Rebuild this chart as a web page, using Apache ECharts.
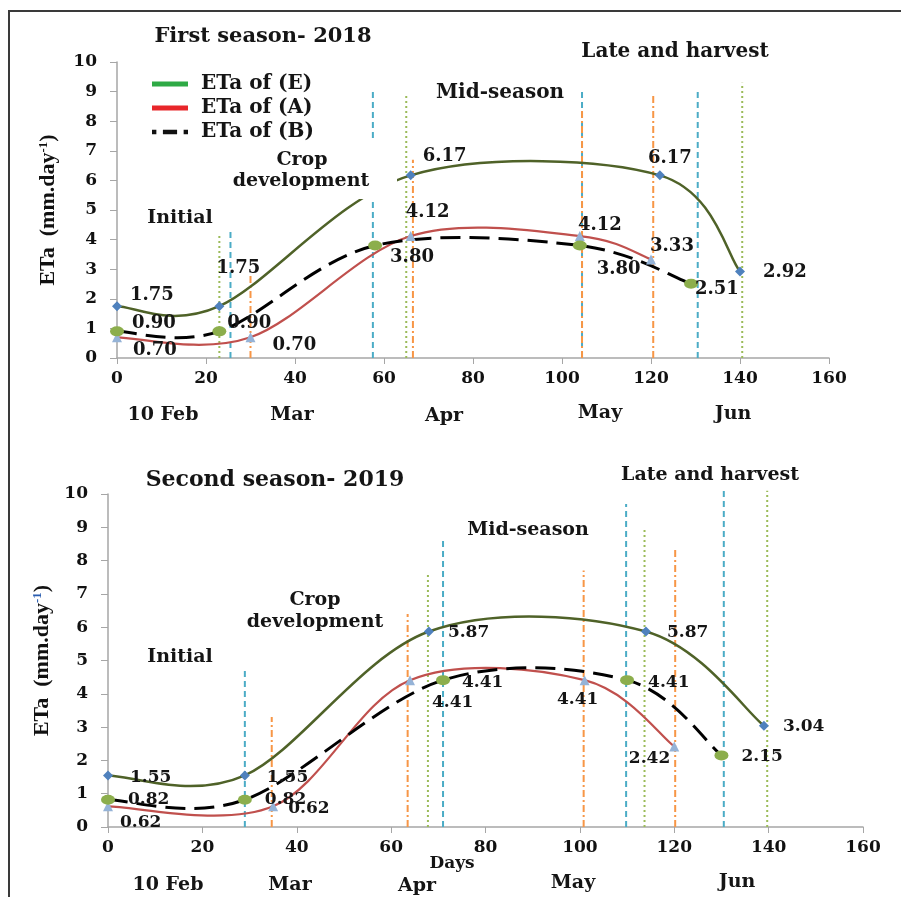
<!DOCTYPE html>
<html>
<head>
<meta charset="UTF-8">
<title>ETa seasons</title>
<script src="https://cdn.jsdelivr.net/npm/echarts@6/dist/echarts.min.js"></script>
<style>
  html, body { margin: 0; padding: 0; background: #fff; }
  #main { width: 901px; height: 897px; }
</style>
</head>
<body>
<div id="main"></div>
<script>
// ---- data ----
// first season 2018
var days2018E = [0, 23, 66, 122, 140];
var eta2018E  = [1.75, 1.75, 6.17, 6.17, 2.92];
var days2018A = [0, 30, 66, 104, 120];
var eta2018A  = [0.70, 0.70, 4.12, 4.12, 3.33];
var days2018B = [0, 23, 58, 104, 129];
var eta2018B  = [0.90, 0.90, 3.80, 3.80, 2.51];
// second season 2019
var days2019E = [0, 29, 68, 114, 139];
var eta2019E  = [1.55, 1.55, 5.87, 5.87, 3.04];
var days2019A = [0, 35, 64, 101, 120];
var eta2019A  = [0.62, 0.62, 4.41, 4.41, 2.42];
var days2019B = [0, 29, 71, 110, 130];
var eta2019B  = [0.82, 0.82, 4.41, 4.41, 2.15];

// stage boundary markers: [day, height]
var blueStage2018   = [[25.5, 4.3], [57.5, 9.0], [104.5, 9.0], [130.5, 9.0]];
var orangeStage2018 = [[30, 2.8], [66.5, 6.7], [104.5, 8.4], [120.5, 8.9]];
var greenStage2018  = [[23, 4.2], [65, 8.9], [140.5, 9.3]];
var blueStage2019   = [[29, 4.75], [71, 8.7], [109.8, 9.7], [130.5, 10.1]];
var orangeStage2019 = [[34.7, 3.3], [63.5, 6.4], [100.8, 7.7], [120.2, 8.4]];
var greenStage2019  = [[67.8, 7.6], [113.7, 9.0], [139.7, 10.1]];

var seriesNames = ['ETa of (E)', 'ETa of (A)', 'ETa of (B)'];
var months = ['10 Feb', 'Mar', 'Apr', 'May', 'Jun'];
var stageNames = ['Initial', 'Crop', 'development', 'Mid-season', 'Late and harvest'];

// ---- label placement (layout only) ----
var lab2018 = {
  E: [['right', [3, -11]], ['top', [19, -19]], ['right', [2, -19]], ['top', [10, 2]], ['right', [13, 1]]],
  A: [['right', [6, 13]], ['right', [12, 8]], ['top', [17, -5]], ['top', [20, 8]], ['top', [21, 6]]],
  B: [['right', [3, -8]], ['right', [-4, -8]], ['right', [3, 12]], ['right', [5, 24]], ['right', [-8, 6]]]
};
var lab2019 = {
  E: [['right', [12, 2]], ['right', [12, 2]], ['right', [9, 1]], ['right', [11, 1]], ['right', [9, 1]]],
  A: [['right', [2, 16]], ['right', [5, 2]], ['right', [12, 22]], ['bottom', [-7, 1]], ['left', [6, 12]]],
  B: [['right', [8, 0]], ['right', [8, 0]], ['right', [7, 2]], ['right', [9, 2]], ['right', [8, 1]]]
};

var SERIF = '"DejaVu Serif", "Liberation Serif", serif';

function pts(days, vals, labs, size) {
  return days.map(function (d, i) {
    return {
      value: [d, vals[i]],
      label: { position: labs[i][0], offset: labs[i][1], fontSize: size }
    };
  });
}

var styleE = { color: '#4f6228', width: 2.5, sym: 'diamond', symSize: 10, symColor: '#4f81bd' };
var styleA = { color: '#c0504d', width: 2.2, sym: 'triangle', symSize: 10, symColor: '#95b3d7' };
var styleB = { color: '#000', width: 3, sym: 'circle', symSize: [14, 10], symColor: '#8cae4c', dash: [20, 9] };

// markers + value labels (line itself drawn by the smoothed custom series)
function markers(name, idx, data, st) {
  return {
    name: name, type: 'line', xAxisIndex: idx, yAxisIndex: idx,
    data: data, z: 6,
    symbol: st.sym, symbolSize: st.symSize,
    itemStyle: { color: st.symColor },
    lineStyle: { opacity: 0 },
    label: {
      show: true, distance: 5, color: '#151515', fontFamily: SERIF, fontWeight: 'bold',
      formatter: function (p) { return p.value[1].toFixed(2); }
    }
  };
}

// Excel-like smoothed line (Catmull-Rom through the data points, in pixel space)
function smoothLine(idx, days, vals, st) {
  var n = days.length;
  return {
    type: 'custom', xAxisIndex: idx, yAxisIndex: idx, silent: true, z: 4,
    data: days.map(function (d, i) { return [d, vals[i]]; }),
    renderItem: function (params, api) {
      if (params.dataIndex !== n - 1) return null;
      var P = [];
      for (var k = 0; k < n; k++) P.push(api.coord([days[k], vals[k]]));
      var at = function (k) { return P[Math.max(0, Math.min(n - 1, k))]; };
      var d = 'M' + P[0][0] + ',' + P[0][1];
      for (var i = 1; i < n; i++) {
        var p0 = at(i - 2), p1 = at(i - 1), p2 = at(i), p3 = at(i + 1);
        var c1x = p1[0] + (p2[0] - p0[0]) / 6, c1y = p1[1] + (p2[1] - p0[1]) / 6;
        var c2x = p2[0] - (p3[0] - p1[0]) / 6, c2y = p2[1] - (p3[1] - p1[1]) / 6;
        d += ' C' + c1x + ',' + c1y + ' ' + c2x + ',' + c2y + ' ' + p2[0] + ',' + p2[1];
      }
      return {
        type: 'path', shape: { pathData: d },
        style: { stroke: st.color, lineWidth: st.width, fill: null, lineDash: st.dash || null }
      };
    }
  };
}

function stageLines(list, idx, color, type, width) {
  return list.map(function (s) {
    return {
      type: 'line', xAxisIndex: idx, yAxisIndex: idx, silent: true, clip: false,
      symbol: 'none', z: 3,
      data: [[s[0], 0], [s[0], s[1]]],
      lineStyle: { color: color, width: width, type: type }
    };
  });
}

var series = [];
[[0, blueStage2018, orangeStage2018, greenStage2018], [1, blueStage2019, orangeStage2019, greenStage2019]].forEach(function (g) {
  series = series.concat(stageLines(g[1], g[0], '#4bacc6', [6, 4], 2));
  series = series.concat(stageLines(g[2], g[0], '#f79646', [7, 3, 2, 3], 2));
  series = series.concat(stageLines(g[3], g[0], '#9bbb59', [2, 3], 2));
});
series.push(smoothLine(0, days2018E, eta2018E, styleE));
series.push(smoothLine(0, days2018A, eta2018A, styleA));
series.push(smoothLine(0, days2018B, eta2018B, styleB));
series.push(smoothLine(1, days2019E, eta2019E, styleE));
series.push(smoothLine(1, days2019A, eta2019A, styleA));
series.push(smoothLine(1, days2019B, eta2019B, styleB));
series.push(markers(seriesNames[0], 0, pts(days2018E, eta2018E, lab2018.E, 18), styleE));
series.push(markers(seriesNames[1], 0, pts(days2018A, eta2018A, lab2018.A, 18), styleA));
series.push(markers(seriesNames[2], 0, pts(days2018B, eta2018B, lab2018.B, 18), styleB));
series.push(markers(seriesNames[0], 1, pts(days2019E, eta2019E, lab2019.E, 17), styleE));
series.push(markers(seriesNames[1], 1, pts(days2019A, eta2019A, lab2019.A, 17), styleA));
series.push(markers(seriesNames[2], 1, pts(days2019B, eta2019B, lab2019.B, 17), styleB));

function xAx(idx) {
  return {
    type: 'value', gridIndex: idx, min: 0, max: 160, interval: 20,
    splitLine: { show: false },
    axisLine: { lineStyle: { color: '#a6a6a6', width: 1.5 } },
    axisTick: { show: true, length: 6, lineStyle: { color: '#a6a6a6' } },
    axisLabel: { color: '#111', fontFamily: SERIF, fontWeight: 'bold', fontSize: 17, margin: 12 }
  };
}
function yAx(idx, gap, supColor) {
  return {
    type: 'value', gridIndex: idx, min: 0, max: 10, interval: 1,
    splitLine: { show: false },
    axisLine: { show: true, lineStyle: { color: '#a6a6a6', width: 1.5 } },
    axisTick: { show: true, length: 7, lineStyle: { color: '#a6a6a6' } },
    axisLabel: { color: '#111', fontFamily: SERIF, fontWeight: 'bold', fontSize: 17, margin: 20 },
    name: 'ETa  (mm.day{s|-1})', nameLocation: 'middle', nameRotate: 90, nameGap: gap,
    nameTextStyle: {
      color: '#111', fontFamily: '"Liberation Serif", serif', fontSize: 22, fontWeight: 'bold',
      rich: { s: { fontSize: 13, color: supColor, verticalAlign: 'top', fontWeight: 'bold', fontFamily: '"Liberation Serif", serif' } }
    }
  };
}

function txt(s, x, y, size) {
  return {
    type: 'text', x: x, y: y, z: 110,
    style: { text: s, fill: '#151515', font: 'bold ' + (size || 19) + 'px ' + SERIF, align: 'center', verticalAlign: 'middle' }
  };
}

var graphics = [
  // frame
  { type: 'polyline', z: 120, shape: { points: [[9, 897], [9, 11], [901, 11]] }, style: { stroke: '#3a3a3a', lineWidth: 2, fill: null } },
  // white box behind crop development text (top)
  { type: 'rect', z: 100, shape: { x: 230, y: 141, width: 167, height: 58 }, style: { fill: '#fff' } },
  txt(stageNames[0], 180, 218), txt(stageNames[1], 302, 160), txt(stageNames[2], 301, 181),
  txt(stageNames[3], 500, 93, 20), txt(stageNames[4], 675, 52, 20),
  txt(stageNames[0], 180, 657), txt(stageNames[1], 315, 600), txt(stageNames[2], 315, 622),
  txt(stageNames[3], 528, 530), txt(stageNames[4], 710, 475),
  txt(months[0], 163, 415), txt(months[1], 292, 415), txt(months[2], 444, 416), txt(months[3], 600, 413), txt(months[4], 733, 414),
  txt(months[0], 168, 885), txt(months[1], 290, 885), txt(months[2], 417, 886), txt(months[3], 573, 883), txt(months[4], 737, 882),
  txt('Days', 452, 864, 17)
];

var chart = echarts.init(document.getElementById('main'));
chart.setOption({
  backgroundColor: '#fff',
  animation: false,
  title: [
    { text: 'First season- 2018', left: 258, top: 21, textAlign: 'center',
      textStyle: { fontFamily: SERIF, fontWeight: 'bold', fontSize: 21, color: '#151515' } },
    { text: 'Second season- 2019', left: 270, top: 464, textAlign: 'center',
      textStyle: { fontFamily: SERIF, fontWeight: 'bold', fontSize: 22, color: '#151515' } }
  ],
  legend: {
    orient: 'vertical', left: 147, top: 69, itemGap: 4, itemWidth: 36, itemHeight: 5,
    selectedMode: false,
    textStyle: { fontFamily: SERIF, fontWeight: 'bold', fontSize: 20, color: '#151515', padding: [0, 0, 0, 8] },
    data: [
      { name: seriesNames[0], icon: 'rect', itemStyle: { color: '#2eaa45' } },
      { name: seriesNames[1], icon: 'rect', itemStyle: { color: '#e8262a' } },
      { name: seriesNames[2], icon: 'path://M0,0h4v4h-4zM10,0h13v4h-13zM29,0h4v4h-4z', itemStyle: { color: '#111' } }
    ]
  },
  grid: [
    { left: 117, top: 62, width: 712, height: 296 },
    { left: 108, top: 494, width: 755, height: 333 }
  ],
  xAxis: [xAx(0), xAx(1)],
  yAxis: [yAx(0, 58, '#111'), yAx(1, 51, '#2a5db0')],
  graphic: graphics,
  series: series
});
</script>
</body>
</html>
